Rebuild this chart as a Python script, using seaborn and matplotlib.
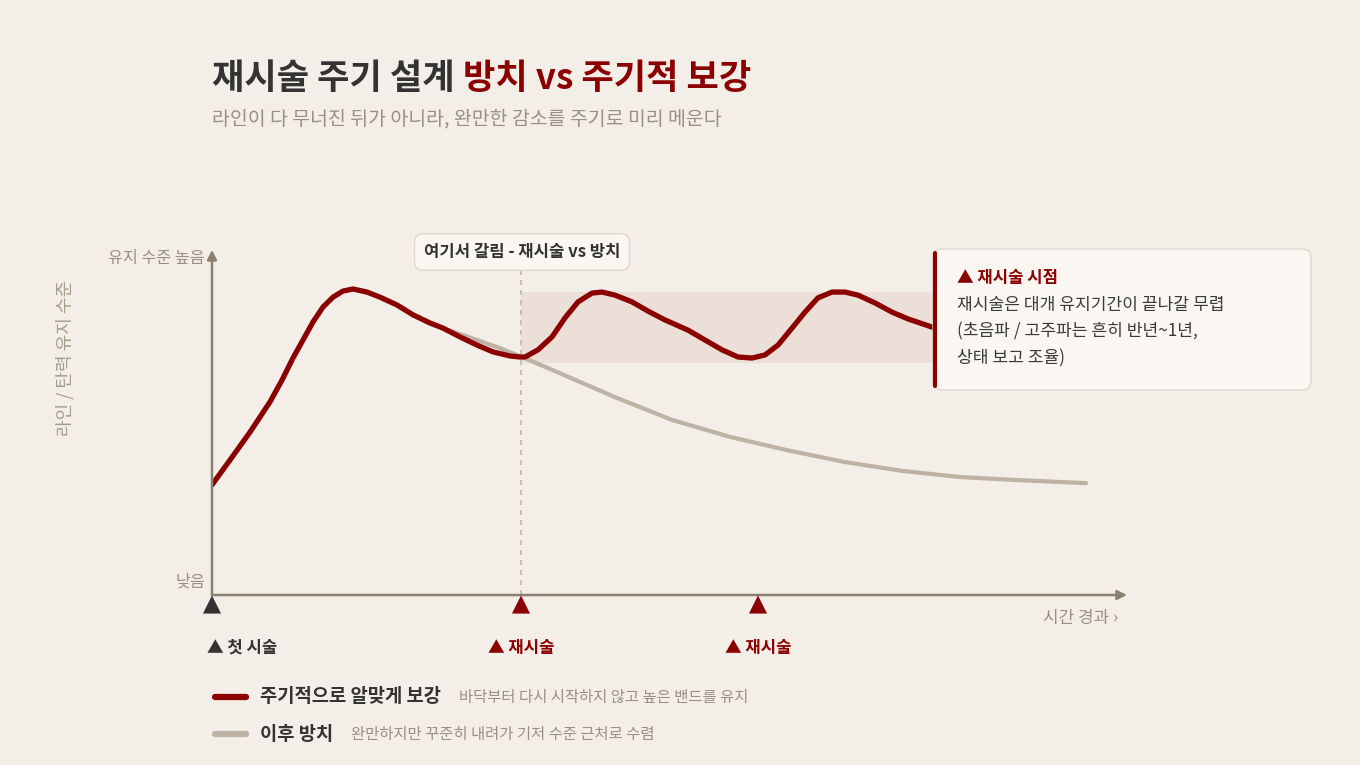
import numpy as np
import pandas as pd
import matplotlib.pyplot as plt
import seaborn as sns
from matplotlib.patches import FancyBboxPatch

BG = "#f3eee8"
RED = "#8b0000"
GREY = "#bdb2a3"
AXIS = "#8c8070"
MUTED = "#9a8f84"
DARK = "#333333"

# time (arbitrary units) vs. line / elasticity level (0 = low, 100 = high)
red_t = [0, 1.8, 3.8, 5.8, 7.0, 8.1, 9.1, 10.1, 11.1, 12.1, 13.1, 14.1, 15.5, 16.8, 18.5,
         20.1, 21.8, 23.1, 24.8, 26.5, 28.1, 29.8, 30.8, 31.3, 32.6, 34.0, 35.3, 36.6, 38.0,
         39.0, 40.3, 42.0, 43.6, 45.3, 47.6, 49.3, 51.0, 52.6, 54.0, 55.3, 56.6, 58.0, 59.3,
         60.6, 62.0, 63.3, 64.6, 66.3, 68.0, 69.6, 72.0, 74.8]
red_y = [32.4, 39.7, 47.9, 56.8, 63.2, 69.7, 75.0, 80.3, 84.7, 87.6, 89.4, 90.0, 89.1, 87.6, 85.3,
         82.4, 80.0, 78.5, 75.9, 73.5, 71.5, 70.3, 70.0, 70.0, 72.1, 75.9, 81.5, 86.2, 88.8,
         89.1, 88.2, 86.2, 83.5, 80.9, 77.9, 75.0, 72.1, 70.0, 69.7, 70.6, 73.5, 78.5, 83.2,
         87.4, 89.1, 89.1, 88.2, 85.9, 83.2, 81.2, 78.8, 76.2]

# left alone after the first treatment (shares the red path until it splits off)
grey_t = red_t[:18] + [26.5, 28.8, 31.0, 34.5, 40.3, 46.0, 51.8, 57.5, 63.3, 69.0, 74.8, 80.5, 87.4]
grey_y = red_y[:18] + [75.0, 72.6, 70.0, 65.6, 58.2, 51.5, 46.5, 42.6, 39.1, 36.5, 34.7, 33.8, 32.9]

treat_t = [0, 30.9, 54.6]
treat_labels = ["▲ 첫 시술", "▲ 재시술", "▲ 재시술"]
treat_colors = [DARK, RED, RED]
split_t = 30.9
band_t = [30.9, 80]
band_lo, band_hi = 68.2, 89.1

title_a = "재시술 주기 설계"
title_b = "방치 vs 주기적 보강"
subtitle = "라인이 다 무너진 뒤가 아니라, 완만한 감소를 주기로 미리 메운다"
callout_head = "▲ 재시술 시점"
callout_lines = ["재시술은 대개 유지기간이 끝나갈 무렵",
                 "(초음파 / 고주파는 흔히 반년~1년,",
                 "상태 보고 조율)"]
legend_items = [("주기적으로 알맞게 보강", "바닥부터 다시 시작하지 않고 높은 밴드를 유지", RED),
                ("이후 방치", "완만하지만 꾸준히 내려가 기저 수준 근처로 수렴", GREY)]

sns.set_theme(style="white")
plt.rcParams["font.family"] = ["Noto Sans CJK KR", "DejaVu Sans"]

fig = plt.figure(figsize=(13.6, 7.65), dpi=100, facecolor=BG)
W, H = 1360, 765

# main chart area: x 212..1124 px, y 255..595 px
ax = fig.add_axes([212 / W, (H - 595) / H, (1124 - 212) / W, (595 - 255) / H])
ax.set_facecolor("none")
ax.set_xlim(0, 91.2)
ax.set_ylim(0, 100)
for s in ax.spines.values():
    s.set_visible(False)
ax.set_xticks([])
ax.set_yticks([])

ax.fill_between(band_t, band_lo, band_hi, color="#ecdfd7", lw=0, zorder=1)
ax.plot([split_t, split_t], [0, 96], ls=(0, (3, 3)), color="#c2b8ac", lw=1.2, zorder=1)

sns.lineplot(x=grey_t, y=grey_y, ax=ax, color=GREY, linewidth=3.0, estimator=None, sort=False,
             solid_capstyle="round", solid_joinstyle="round", zorder=2)
sns.lineplot(x=red_t, y=red_y, ax=ax, color=RED, linewidth=3.8, estimator=None, sort=False,
             solid_capstyle="round", solid_joinstyle="round", zorder=3)

# axis arrows
ax.annotate("", xy=(0, 101.5), xytext=(0, 0), annotation_clip=False,
            arrowprops=dict(arrowstyle="-|>", color=AXIS, lw=1.8, mutation_scale=14, shrinkA=0, shrinkB=0))
ax.annotate("", xy=(91.5, 0), xytext=(0, 0), annotation_clip=False,
            arrowprops=dict(arrowstyle="-|>", color=AXIS, lw=1.8, mutation_scale=14, shrinkA=0, shrinkB=0))

ax.scatter(treat_t, [-2.8] * 3, marker="^", s=170, c=treat_colors, clip_on=False, zorder=4, linewidths=0)
for i, (t, lab, c) in enumerate(zip(treat_t, treat_labels, treat_colors)):
    ax.text(t - 0.5 if i == 0 else t, -15.6, lab, ha="left" if i == 0 else "center", va="center",
            fontsize=12, fontweight="bold", color=c, clip_on=False)

# overlay in pixel coordinates for annotations
ov = fig.add_axes([0, 0, 1, 1])
ov.set_xlim(0, W)
ov.set_ylim(H, 0)
ov.axis("off")

t1 = ov.text(212, 78, title_a, fontsize=25.3, fontweight="bold", color=DARK, va="center", ha="left")
ov.annotate(" " + title_b, xy=(1, 0.5), xycoords=t1, va="center", ha="left",
            fontsize=25.3, fontweight="bold", color=RED)
ov.text(212, 119, subtitle, fontsize=14, color=MUTED, va="center", ha="left")

ov.text(205, 258, "유지 수준 높음", fontsize=11.7, color=MUTED, ha="right", va="center")
ov.text(205, 582, "낮음", fontsize=11.7, color=MUTED, ha="right", va="center")
ov.text(65, 358, "라인 / 탄력 유지 수준", fontsize=13, fontweight="medium", color="#a89c8c",
        rotation=90, ha="center", va="center")
ov.text(1118, 618, "시간 경과 ›", fontsize=12.2, color=MUTED, ha="right", va="center")

ov.text(522, 252, "여기서 갈림 - 재시술 vs 방치", fontsize=12, fontweight="bold", color=DARK,
        ha="center", va="center",
        bbox=dict(boxstyle="round,pad=0.55,rounding_size=0.5", fc="#faf7f2", ec="#e0d7cb", lw=1))

# callout box
ov.add_patch(FancyBboxPatch((933, 249), 378, 141, boxstyle="round,pad=0,rounding_size=9",
                            fc="#faf7f2", ec="#e0d7cb", lw=1, zorder=5))
ov.plot([935, 935], [253, 386], color=RED, lw=3, solid_capstyle="round", zorder=6)
ov.text(957, 278, callout_head, fontsize=12, fontweight="bold", color=RED, va="center", zorder=7)
for k, line in enumerate(callout_lines):
    ov.text(957, 305 + 26.5 * k, line, fontsize=12.3, fontweight="medium", color="#3a3a3a",
            va="center", zorder=7)

# legend
for k, (name, desc, c) in enumerate(legend_items):
    yy = 697 + 37 * k
    ov.plot([215, 246], [yy, yy], color=c, lw=4.5, solid_capstyle="round")
    tn = ov.text(260, yy, name, fontsize=13.5, fontweight="bold", color=DARK, va="center")
    ov.annotate(desc, xy=(1, 0.5), xycoords=tn, xytext=(13, 0), textcoords="offset points",
                va="center", ha="left", fontsize=11.1, color=MUTED)

fig.savefig("out.png", dpi=100, facecolor=BG)
